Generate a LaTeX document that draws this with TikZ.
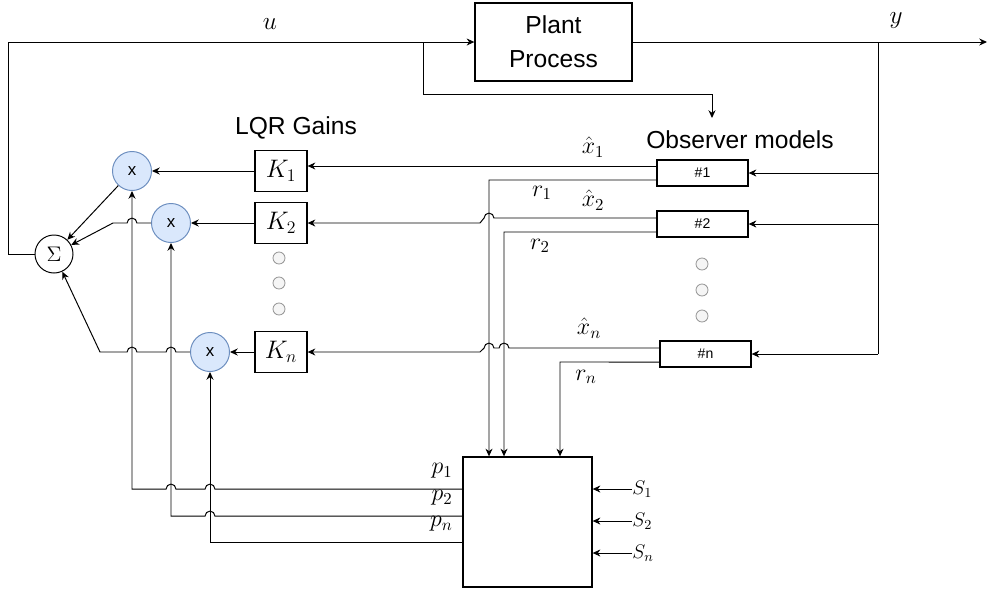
\RequirePackage{fix-cm}
\documentclass[tikz,border=0pt]{standalone}
\usepackage{amsmath}
\usepackage{fontspec}
\newfontfamily\hv{Liberation Sans}
\usetikzlibrary{arrows.meta}
\definecolor{mulfill}{HTML}{DAE8FC}
\definecolor{muldraw}{HTML}{6C8EBF}

\begin{document}
\begin{tikzpicture}[x=0.025cm, y=0.025cm, >={Stealth[length=5.5pt,width=5pt]}, line width=0.7pt,
    blk/.style={draw, line width=0.9pt, inner sep=0pt},
    gain/.style={blk, minimum width=1.3cm, minimum height=1.025cm, font=\fontsize{18}{20}\selectfont},
    obsbox/.style={blk, minimum width=2.275cm, minimum height=0.65cm, font=\hv\fontsize{10}{12}\selectfont},
    mul/.style={circle, draw=muldraw, fill=mulfill, minimum size=0.975cm, inner sep=0pt, line width=0.7pt, font=\hv\fontsize{12}{14}\selectfont},
    dotc/.style={circle, draw=gray!80, fill=gray!8, minimum size=0.3cm, inner sep=0pt, line width=0.6pt},
    ttl/.style={font=\hv\fontsize{17.5}{24}\selectfont, align=center},
    lbl/.style={font=\fontsize{17}{19}\selectfont, inner sep=0pt}]
    \useasboundingbox (0,0) rectangle (987,-593);

    % blocks
    \node[blk, minimum width=3.925cm, minimum height=1.95cm, ttl] (plant) at (553.5,-42) {Plant\\Process};
    \node[gain] (k1) at (281,-171) {$K_1$};
    \node[gain] (k2) at (281,-223) {$K_2$};
    \node[gain] (kn) at (281,-352) {$K_n$};
    \node[obsbox] (o1) at (702.5,-173) {\#1};
    \node[obsbox] (o2) at (702.5,-224) {\#2};
    \node[obsbox] (on) at (705.5,-354) {\#n};
    \node[blk, minimum width=3.225cm, minimum height=3.25cm] (bx) at (527.5,-522) {};
    \node[circle, draw, line width=0.7pt, minimum size=0.95cm, inner sep=0pt, font=\fontsize{15}{17}\selectfont] (sig) at (54,-254) {$\Sigma$};
    \node[mul] (m1) at (132,-171) {x};
    \node[mul] (m2) at (171,-223) {x};
    \node[mul] (mn) at (210,-352) {x};

    % dots
    \foreach \i/\y in {1/258, 2/283, 3/309} \node[dotc] (kd\i) at (279,-\y) {};
    \foreach \i/\y in {1/264, 2/290, 3/316} \node[dotc] (od\i) at (702,-\y) {};

    % titles and labels
    \node[ttl] (lqr) at (296,-128) {LQR Gains};
    \node[ttl] (obs) at (740,-140) {Observer models};
    \node[lbl, font=\fontsize{18}{20}\selectfont] (lu) at (270,-24) {$u$};
    \node[lbl, font=\fontsize{18}{20}\selectfont] (ly) at (896,-21) {$y$};
    \node[lbl] (lx1) at (593,-147) {$\hat{x}_1$};
    \node[lbl] (lx2) at (593,-200) {$\hat{x}_2$};
    \node[lbl] (lxn) at (589,-328) {$\hat{x}_n$};
    \node[lbl] (lr1) at (542,-193) {$r_1$};
    \node[lbl] (lr2) at (540,-246) {$r_2$};
    \node[lbl] (lrn) at (586,-377) {$r_n$};
    \node[lbl, anchor=east] (lp1) at (453,-471) {$p_1$};
    \node[lbl, anchor=east] (lp2) at (453,-498) {$p_2$};
    \node[lbl, anchor=east] (lpn) at (453,-524) {$p_n$};
    \node[lbl, anchor=west, font=\fontsize{14}{16}\selectfont] (s1) at (632,-489) {$S_1$};
    \node[lbl, anchor=west, font=\fontsize{14}{16}\selectfont] (s2) at (632,-521) {$S_2$};
    \node[lbl, anchor=west, font=\fontsize{14}{16}\selectfont] (sn) at (632,-553) {$S_n$};

    \coordinate (ul) at (8,-42);
    \coordinate (ub) at (423,-42);
    \coordinate (uo) at (712,-118);
    \coordinate (yb) at (878,-42);
    \coordinate (yend) at (987,-42);

    % plant loop
    \draw[->] (sig.west) -- (sig.west -| ul) -- (ul) -- (plant.west);
    \draw[->] (ub) -- (423,-94) -- (712,-94) -- (uo);
    \draw[->] (plant.east) -- (yend);
    \draw (yb) -- (yb |- on.east);
    \draw[->] (yb |- o1.east) -- (o1.east);
    \draw[->] (yb |- o2.east) -- (o2.east);
    \draw[->] (yb |- on.east) -- (on.east);

    % state estimates
    \draw[->] ([yshift=0.175cm]o1.west) -- ([yshift=0.175cm]o1.west -| k1.east);
    \draw[->] ([yshift=0.15cm]o2.west) -- ([xshift=3.5pt]489,-218) arc[start angle=0, end angle=180, radius=3.5pt]
        -- (480,-223) -- (k2.east);
    \draw[->] ([yshift=0.15cm]on.west) -- ([xshift=3.5pt]504,-348) arc[start angle=0, end angle=180, radius=3.5pt]
        -- ([xshift=3.5pt]489,-348) arc[start angle=0, end angle=180, radius=3.5pt] -- (480,-352) -- (kn.east);

    % residuals
    \draw[->] ([yshift=-0.175cm]o1.west) -- (489,-180) -- (489,-180 |- bx.north);
    \draw[->] ([yshift=-0.2cm]o2.west) -- (504,-232) -- (504,-232 |- bx.north);
    \draw[->] ([yshift=-0.2cm]on.west) -- (560,-362) -- (560,-362 |- bx.north);

    % gains to multipliers
    \draw[->] (k1.west) -- (m1.east);
    \draw[->] (k2.west) -- (m2.east);
    \draw[->] (kn.west) -- (mn.east);

    % probabilities
    \draw[->] (bx.west |- 0,-489) -- ([xshift=3.5pt]210,-489) arc[start angle=0, end angle=180, radius=3.5pt]
        -- ([xshift=3.5pt]171,-489) arc[start angle=0, end angle=180, radius=3.5pt] -- (132,-489) -- (m1.south);
    \draw[->] (bx.west |- 0,-516) -- ([xshift=3.5pt]210,-516) arc[start angle=0, end angle=180, radius=3.5pt]
        -- (171,-516) -- (m2.south);
    \draw[->] (bx.west |- 0,-542) -- (210,-542) -- (mn.south);

    % multipliers to sum
    \draw[->] (m1) -- (sig);
    \draw[->] (m2.west) -- ([xshift=3.5pt]132,-223) arc[start angle=0, end angle=180, radius=3.5pt] -- (113,-223) -- (sig);
    \draw[->] (mn.west) -- ([xshift=3.5pt]171,-352) arc[start angle=0, end angle=180, radius=3.5pt]
        -- ([xshift=3.5pt]132,-352) arc[start angle=0, end angle=180, radius=3.5pt] -- (100,-352) -- (sig);

    % switching inputs
    \draw[->] (s1.west) -- (s1.west -| bx.east);
    \draw[->] (s2.west) -- (s2.west -| bx.east);
    \draw[->] (sn.west) -- (sn.west -| bx.east);
\end{tikzpicture}
\end{document}
